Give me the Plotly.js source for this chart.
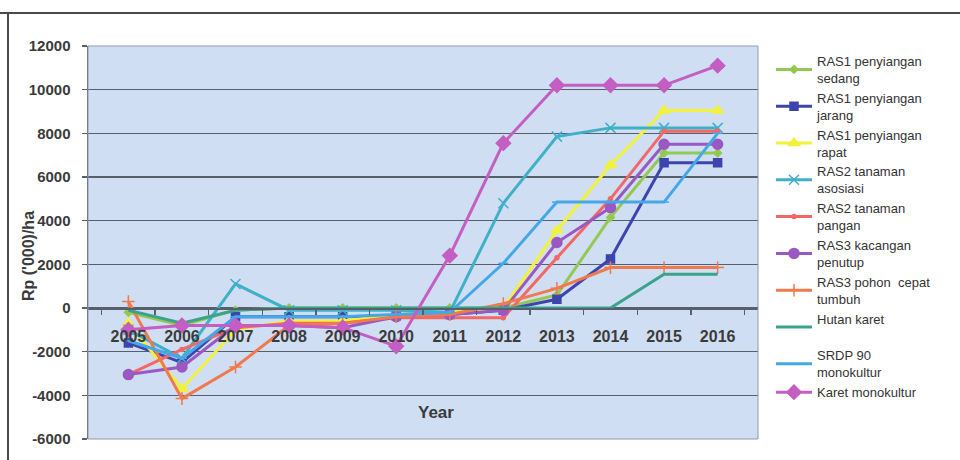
<!DOCTYPE html>
<html>
<head>
<meta charset="utf-8">
<script src="https://cdn.plot.ly/plotly-3.0.1.min.js"></script>
<style>
  html, body { margin: 0; padding: 0; background: #ffffff; }
  #chart { width: 960px; height: 460px; }
</style>
</head>
<body>
<div id="chart"></div>
<script>
// Years on the category axis
const years = ['2005', '2006', '2007', '2008', '2009', '2010', '2011', '2012', '2013', '2014', '2015', '2016'];

// Net cash flow per system, Rp ('000)/ha
const ras1Sedang   = [-200, -800, -100, 0, 0, 0, 0, 0, 600, 4150, 7100, 7100];
const ras1Jarang   = [-1600, -2500, -400, -400, -400, -350, -300, -100, 400, 2250, 6650, 6650];
const ras1Rapat    = [-700, -3700, -1000, -600, -600, -300, -200, 0, 3550, 6550, 9050, 9050];
const ras2Asosiasi = [-1000, -2300, 1100, -100, -100, -100, -200, 4800, 7850, 8250, 8250, 8250];
const ras2Pangan   = [-3050, -1900, -900, -700, -700, -450, -450, -450, 2300, 5000, 8100, 8100];
const ras3Kacangan = [-3050, -2700, -800, -800, -900, -400, -300, -100, 3000, 4600, 7500, 7500];
const ras3Pohon    = [300, -4150, -2700, -800, -700, -400, -300, 200, 900, 1850, 1850, 1850];
const hutanKaret   = [-100, -700, -100, 0, 0, 0, 0, 0, 0, 0, 1550, 1550];
const srdp90       = [-1500, -2300, -400, -400, -400, -300, -200, 2050, 4850, 4850, 4850, 8000];
const karetMono    = [-1000, -800, -800, -800, -900, -1750, 2400, 7550, 10200, 10200, 10200, 11100];

// Legend names
const names = [
  'RAS1 penyiangan<br>sedang',
  'RAS1 penyiangan<br>jarang',
  'RAS1 penyiangan<br>rapat',
  'RAS2 tanaman<br>asosiasi',
  'RAS2 tanaman<br>pangan',
  'RAS3 kacangan<br>penutup',
  'RAS3 pohon  cepat<br>tumbuh',
  'Hutan karet<br> ',
  'SRDP 90<br>monokultur',
  'Karet monokultur'
];

// Axis tick values and their labels (plain hyphen for negatives)
const yTicks = [-6000, -4000, -2000, 0, 2000, 4000, 6000, 8000, 10000, 12000];
const yTickText = ['-6000', '-4000', '-2000', '0', '2000', '4000', '6000', '8000', '10000', '12000'];

// Plot geometry (pixels)
const W = 960, H = 460;
const M = { l: 88, r: 202, t: 46, b: 21 };
const PW = W - M.l - M.r, PH = H - M.t - M.b;
const px = x => (x - M.l) / PW;          // pixel -> paper x
const py = y => (H - M.b - y) / PH;      // pixel -> paper y

function series(y, name, color, symbol, size) {
  const t = {
    type: 'scatter',
    mode: symbol ? 'lines+markers' : 'lines',
    x: years, y: y, name: name,
    line: { color: color, width: 3 }
  };
  if (symbol) {
    t.marker = { symbol: symbol, size: size, color: color, line: { color: color, width: 1.5 } };
  }
  return t;
}

const traces = [
  series(ras1Sedang,   names[0], '#93c952', 'diamond', 6),
  series(ras1Jarang,   names[1], '#3d44ad', 'square', 8),
  series(ras1Rapat,    names[2], '#f2f23c', 'triangle-up', 10),
  series(ras2Asosiasi, names[3], '#3fb0c8', 'x-thin-open', 10),
  series(ras2Pangan,   names[4], '#f26868', 'circle', 4),
  series(ras3Kacangan, names[5], '#9a58c2', 'circle', 10),
  series(ras3Pohon,    names[6], '#f07a4e', 'cross-thin-open', 9),
  series(hutanKaret,   names[7], '#3aa38c', null, 0),
  series(srdp90,       names[8], '#45a8e6', 'line-ew-open', 7),
  series(karetMono,    names[9], '#c45ec2', 'diamond', 11)
];

const axisFont = { family: 'Liberation Sans, Arial, sans-serif', size: 15, color: '#3b3b3b', weight: 'bold' };

const layout = {
  width: W, height: H,
  margin: M,
  paper_bgcolor: '#ffffff',
  plot_bgcolor: '#cfdef2',
  showlegend: true,
  legend: {
    x: px(771), y: 1, xanchor: 'left', yanchor: 'top',
    maxheight: 440,
    itemwidth: 36,
    font: { family: 'Liberation Sans, Arial, sans-serif', size: 13, color: '#333333' },
    bgcolor: 'rgba(0,0,0,0)', borderwidth: 0, tracegroupgap: 0
  },
  xaxis: {
    type: 'category',
    anchor: 'free',
    position: (0 - yTicks[0]) / (yTicks[yTicks.length - 1] - yTicks[0]),
    showline: true, linecolor: '#56606c', linewidth: 1.5,
    ticks: 'outside', tickson: 'boundaries', ticklen: 5, tickcolor: '#56606c', tickwidth: 1.5,
    ticklabelstandoff: 13,
    showgrid: false, zeroline: false,
    tickfont: Object.assign({}, axisFont, { size: 16 }),
    fixedrange: true
  },
  yaxis: {
    range: [yTicks[0], yTicks[yTicks.length - 1]],
    tickvals: yTicks,
    ticktext: yTickText,
    showline: true, linecolor: '#56606c', linewidth: 1.5,
    ticks: 'outside', ticklen: 5, tickcolor: '#56606c', tickwidth: 1.5,
    ticklabelstandoff: 8,
    showgrid: true, gridcolor: '#56606c', gridwidth: 1.5,
    zeroline: false,
    tickfont: axisFont,
    fixedrange: true
  },
  shapes: [
    // thin frame round the plot area
    { type: 'rect', xref: 'paper', yref: 'paper', x0: 0, x1: 1, y0: 0, y1: 1,
      line: { color: '#8d9bab', width: 1 }, layer: 'above' },
    // outer chart frame: top and left edges
    { type: 'line', xref: 'paper', yref: 'paper', x0: px(0), x1: px(960), y0: py(13), y1: py(13),
      line: { color: '#4a4a4a', width: 2 } },
    { type: 'line', xref: 'paper', yref: 'paper', x0: px(8), x1: px(8), y0: py(13), y1: py(460),
      line: { color: '#4a4a4a', width: 2 } }
  ],
  annotations: [
    { text: "Rp ('000)/ha", textangle: -90, xref: 'paper', yref: 'paper',
      x: px(28), y: py(256), xanchor: 'center', yanchor: 'middle', showarrow: false,
      font: { family: 'Liberation Sans, Arial, sans-serif', size: 16, color: '#3b3b3b', weight: 'bold' } },
    { text: 'Year', xref: 'paper', yref: 'paper',
      x: px(436), y: py(412), xanchor: 'center', yanchor: 'middle', showarrow: false,
      font: { family: 'Liberation Sans, Arial, sans-serif', size: 17, color: '#3b3b3b', weight: 'bold' } }
  ]
};

Plotly.newPlot('chart', traces, layout, { displayModeBar: false, staticPlot: true });
</script>
</body>
</html>
